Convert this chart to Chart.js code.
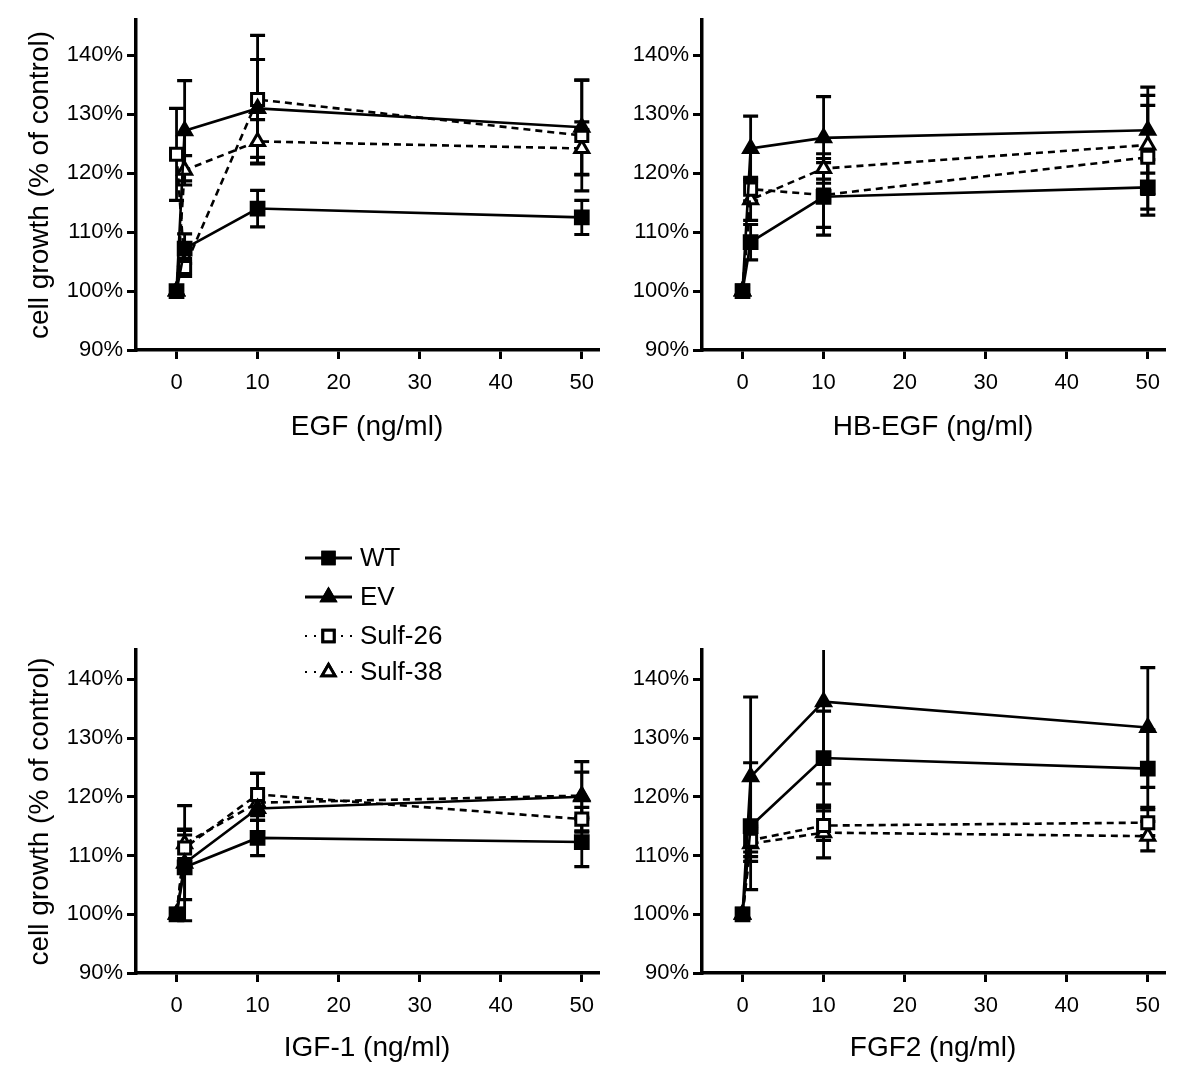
<!DOCTYPE html>
<html>
<head>
<meta charset="utf-8">
<script src="https://cdn.jsdelivr.net/npm/chart.js"></script>
<style>
  body { margin: 0; background: #fff; }
  #wrap { position: relative; width: 1200px; height: 1085px; overflow: hidden; }
  .panel { position: absolute; }
</style>
</head>
<body>
<div id="wrap">
  <div class="panel" style="left:0;top:0"><canvas id="egf" width="610" height="460"></canvas></div>
  <div class="panel" style="left:566px;top:0"><canvas id="hbegf" width="610" height="460"></canvas></div>
  <div class="panel" style="left:0;top:520px"><canvas id="igf" width="610" height="565"></canvas></div>
  <div class="panel" style="left:566px;top:520px"><canvas id="fgf" width="610" height="565"></canvas></div>
</div>
<script>
// doses (ng/ml)
const doses = [0, 1, 10, 50];
const xTicks = [0, 10, 20, 30, 40, 50];
const yTicks = [90, 100, 110, 120, 130, 140];
const seriesNames = ['WT', 'EV', 'Sulf-26', 'Sulf-38'];

// EGF
const egfWT = [100, 107.2, 114.0, 112.5];
const egfWTErr = [0, 2.5, 3.1, 2.9];
const egfEV = [100, 127.2, 131.0, 127.8];
const egfEVErr = [0, 8.5, 8.3, 8.0];
const egfS26 = [123.2, 104.0, 132.5, 126.4];
const egfS26Err = [7.8, 1.5, 10.9, 9.4];
const egfS38 = [100, 120.5, 125.4, 124.2];
const egfS38Err = [0, 2.5, 3.7, 4.5];

// HB-EGF
const hbWT = [100, 108.3, 116.0, 117.6];
const hbWTErr = [0, 3.0, 6.5, 4.7];
const hbEV = [100, 124.2, 126.0, 127.3];
const hbEVErr = [0, 5.5, 7.0, 7.3];
const hbS26 = [100, 117.3, 116.3, 122.7];
const hbS26Err = [0, 2.0, 5.5, 8.8];
const hbS38 = [100, 115.5, 120.8, 124.8];
const hbS38Err = [0, 3.5, 2.5, 8.4];

// IGF-1
const igfWT = [100, 108.0, 113.0, 112.3];
const igfWTErr = [0, 5.5, 3.0, 4.2];
const igfEV = [100, 108.7, 118.0, 120.0];
const igfEVErr = [0, 9.8, 2.0, 6.0];
const igfS26 = [100, 111.3, 120.4, 116.2];
const igfS26Err = [0, 3.0, 3.6, 2.0];
const igfS38 = [100, 112.0, 119.0, 120.2];
const igfS38Err = [0, 2.5, 5.0, 4.0];

// FGF2
const fgfWT = [100, 115.0, 126.6, 124.8];
const fgfWTErr = [0, 10.8, 8.0, 6.6];
const fgfEV = [100, 123.4, 136.2, 131.8];
const fgfEVErr = [0, 13.6, 14.0, 10.2];
const fgfS26 = [100, 112.6, 115.1, 115.6];
const fgfS26Err = [0, 2.0, 2.5, 2.2];
const fgfS38 = [100, 112.0, 113.9, 113.3];
const fgfS38Err = [0, 3.0, 4.3, 2.5];

Chart.defaults.font.family = "'Liberation Sans', Arial, Helvetica, sans-serif";
Chart.defaults.color = '#000';

const styles = [
  { pointStyle: 'rect', pointRadius: 9, fill: '#000', dash: [], legendDash: [] },
  { pointStyle: 'triangle', pointRadius: 8, fill: '#000', dash: [], legendDash: [] },
  { pointStyle: 'rect', pointRadius: 8.5, fill: '#fff', dash: [7, 5], legendDash: [2, 7] },
  { pointStyle: 'triangle', pointRadius: 8, fill: '#fff', dash: [7, 5], legendDash: [2, 7] }
];

function makeDatasets(vals, errs) {
  return vals.map((v, i) => ({
    label: seriesNames[i],
    data: doses.map((d, j) => ({ x: d, y: v[j] })),
    errors: errs[i],
    borderColor: '#000',
    backgroundColor: styles[i].fill,
    borderWidth: 2.6,
    borderDash: styles[i].dash,
    legendDash: styles[i].legendDash,
    pointStyle: styles[i].pointStyle,
    pointRadius: styles[i].pointRadius,
    pointBorderWidth: 3,
    pointBackgroundColor: styles[i].fill,
    pointBorderColor: '#000',
    showLine: true,
    tension: 0
  }));
}

const errorBars = {
  id: 'errorBars',
  beforeDatasetsDraw(chart) {
    const { ctx, chartArea, scales } = chart;
    ctx.save();
    ctx.beginPath();
    ctx.rect(chartArea.left - 10, chartArea.top, chartArea.right - chartArea.left + 20, chartArea.bottom - chartArea.top);
    ctx.clip();
    ctx.strokeStyle = '#000';
    chart.data.datasets.forEach((ds, i) => {
      const meta = chart.getDatasetMeta(i);
      meta.data.forEach((pt, j) => {
        const e = ds.errors[j];
        if (!e) return;
        const v = ds.data[j].y;
        const yHi = scales.y.getPixelForValue(v + e);
        const yLo = scales.y.getPixelForValue(v - e);
        ctx.lineWidth = 2.8;
        ctx.beginPath();
        ctx.moveTo(pt.x, yHi);
        ctx.lineTo(pt.x, yLo);
        ctx.stroke();
        ctx.lineWidth = 3.2;
        ctx.beginPath();
        ctx.moveTo(pt.x - 7.5, yHi);
        ctx.lineTo(pt.x + 7.5, yHi);
        ctx.moveTo(pt.x - 7.5, yLo);
        ctx.lineTo(pt.x + 7.5, yLo);
        ctx.stroke();
      });
    });
    ctx.restore();
  }
};

const legendBox = {
  id: 'legendBox',
  afterDraw(chart, args, opts) {
    if (!opts.show) return;
    const { ctx, chartArea } = chart;
    const x0 = chartArea.left + opts.dx;
    ctx.save();
    ctx.font = "26px 'Liberation Sans', Arial, sans-serif";
    ctx.textBaseline = 'middle';
    ctx.fillStyle = '#000';
    chart.data.datasets.forEach((ds, i) => {
      const y = chartArea.top + opts.rows[i];
      ctx.strokeStyle = '#000';
      ctx.lineWidth = ds.legendDash.length ? 2 : 3;
      ctx.setLineDash(ds.legendDash);
      ctx.beginPath();
      ctx.moveTo(x0, y);
      ctx.lineTo(x0 + 47, y);
      ctx.stroke();
      ctx.setLineDash([]);
      ctx.lineWidth = 3;
      Chart.helpers.drawPoint(ctx, {
        pointStyle: ds.pointStyle,
        radius: ds.pointStyle === 'rect' ? 8 : 7.5,
        rotation: 0,
        borderWidth: 3
      }, x0 + 23.5, y);
      ctx.fillStyle = ds.pointBackgroundColor;
      ctx.fill();
      ctx.stroke();
      ctx.fillStyle = '#000';
      ctx.fillText(ds.label, x0 + 55, y + 1);
    });
    ctx.restore();
  }
};

function makePanel(id, xTitle, vals, errs, cfg) {
  new Chart(document.getElementById(id), {
    type: 'scatter',
    data: { datasets: makeDatasets(vals, errs) },
    options: {
      responsive: false,
      animation: false,
      devicePixelRatio: 1,
      layout: { padding: { left: 0, top: cfg.top, right: 9, bottom: 0 } },
      plugins: {
        legend: { display: false },
        tooltip: { enabled: false },
        legendBox: { show: !!cfg.legend, dx: 169, rows: [-92, -53, -14, 22] }
      },
      scales: {
        x: {
          type: 'linear',
          min: -5,
          max: 52,
          afterBuildTicks: s => { s.ticks = xTicks.map(v => ({ value: v })); },
          afterFit: s => { s.height = cfg.xh; },
          border: { display: true, color: '#000', width: 3.5 },
          grid: { display: true, drawOnChartArea: false, drawTicks: true, tickLength: 9, color: '#000', lineWidth: 3 },
          ticks: { font: { size: 22 }, padding: 11, maxRotation: 0 },
          title: { display: true, text: xTitle, font: { size: 28 }, padding: { top: 0, bottom: cfg.titlePad } }
        },
        y: {
          type: 'linear',
          min: 90,
          max: cfg.ymax,
          afterBuildTicks: s => { s.ticks = yTicks.map(v => ({ value: v })); },
          afterFit: s => { s.width = 136; },
          border: { display: true, color: '#000', width: 3.5 },
          grid: { display: true, drawOnChartArea: false, drawTicks: true, tickLength: 9, color: '#000', lineWidth: 3 },
          ticks: { font: { size: 22 }, padding: 4, callback: v => v + '%' },
          title: { display: cfg.yTitle, text: 'cell growth (% of control)', font: { size: 28 }, padding: { top: 23, bottom: 0 } }
        }
      }
    },
    plugins: [errorBars, legendBox]
  });
}

makePanel('egf', 'EGF (ng/ml)',
  [egfWT, egfEV, egfS26, egfS38], [egfWTErr, egfEVErr, egfS26Err, egfS38Err],
  { top: 20, xh: 110, titlePad: 16, ymax: 146, yTitle: true });
makePanel('hbegf', 'HB-EGF (ng/ml)',
  [hbWT, hbEV, hbS26, hbS38], [hbWTErr, hbEVErr, hbS26Err, hbS38Err],
  { top: 20, xh: 110, titlePad: 16, ymax: 146, yTitle: false });
makePanel('igf', 'IGF-1 (ng/ml)',
  [igfWT, igfEV, igfS26, igfS38], [igfWTErr, igfEVErr, igfS26Err, igfS38Err],
  { top: 130, xh: 112, titlePad: 20, ymax: 145, yTitle: true, legend: true });
makePanel('fgf', 'FGF2 (ng/ml)',
  [fgfWT, fgfEV, fgfS26, fgfS38], [fgfWTErr, fgfEVErr, fgfS26Err, fgfS38Err],
  { top: 130, xh: 112, titlePad: 20, ymax: 145, yTitle: false });
</script>
</body>
</html>
